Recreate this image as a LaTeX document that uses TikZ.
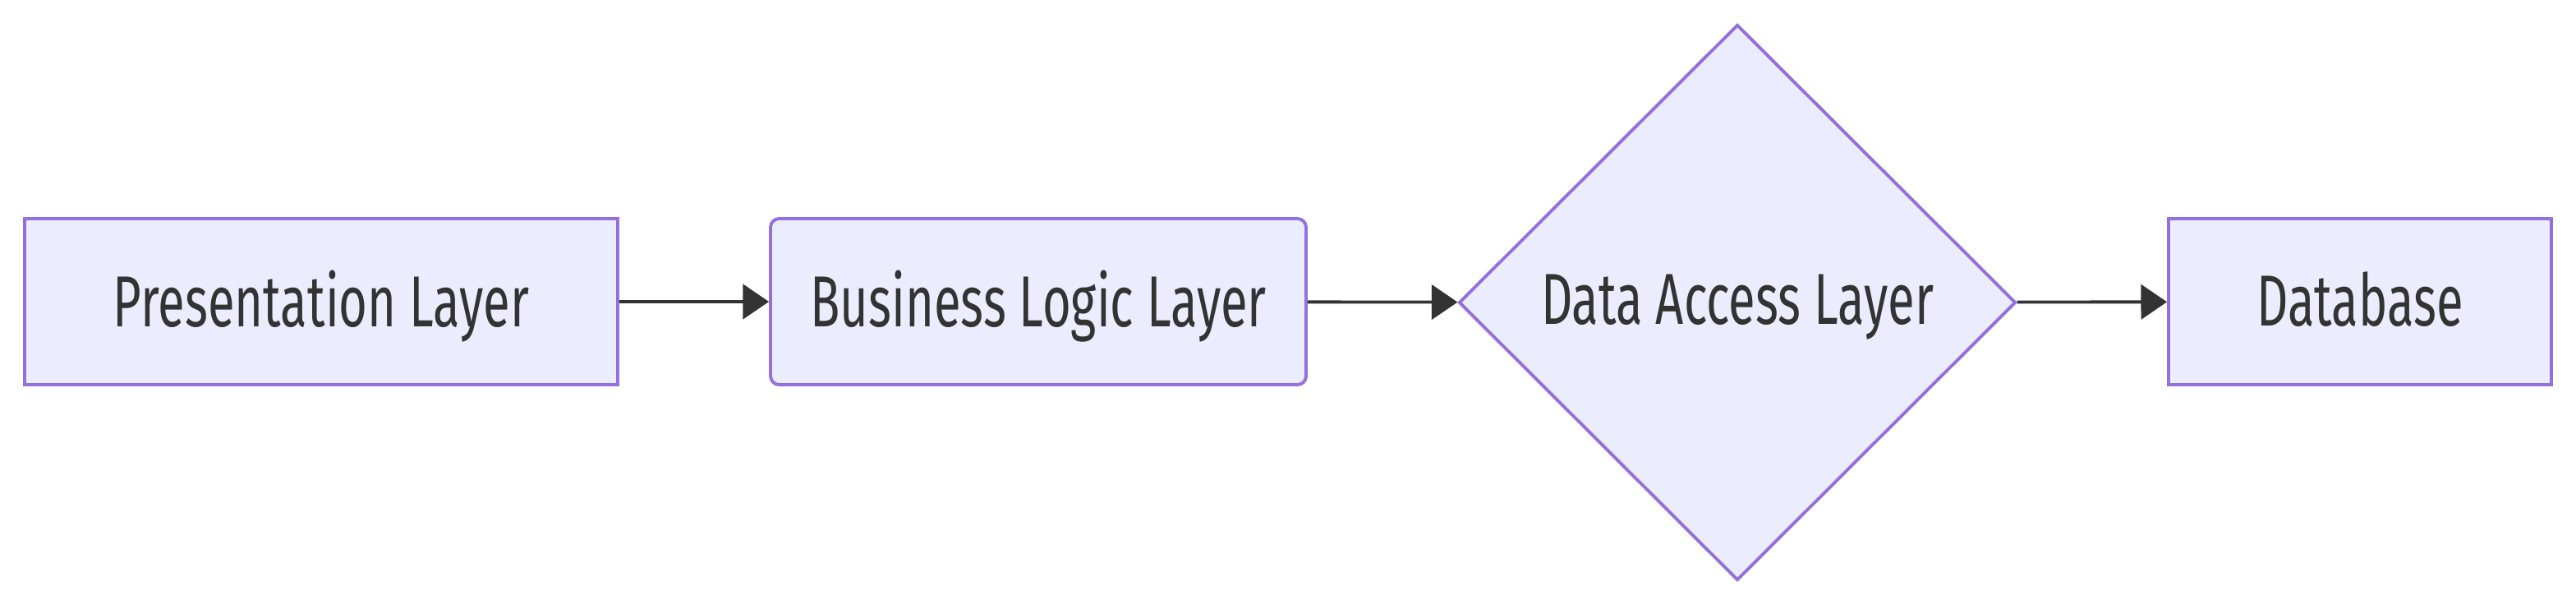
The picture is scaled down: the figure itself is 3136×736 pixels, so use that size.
\documentclass[tikz,border=0pt]{standalone}
\usepackage{fontspec}
\setmainfont[FakeStretch=0.68]{Fira Sans}
\usepackage{tikz}
\usetikzlibrary{arrows.meta,positioning,shapes.geometric}
\definecolor{layerfill}{HTML}{ECECFF}
\definecolor{layerline}{HTML}{9370DB}
\definecolor{inkgrey}{HTML}{333333}

\tikzset{
  layerbox/.style={draw=layerline,fill=layerfill,line width=1.1pt,text=inkgrey,
    minimum height=2.02cm,inner sep=0pt,text depth=2pt,font=\fontsize{25}{30}\selectfont},
  flowarrow/.style={draw=inkgrey,line width=1.1pt,-{Triangle[length=9pt,width=12pt]}}
}

\begin{document}
\begin{tikzpicture}[x=0.1mm,y=-0.1mm]
  \useasboundingbox (0,0) rectangle (3136,736);

  % Layers
  \node[layerbox,minimum width=7.22cm] (present) at (391,367) {Presentation Layer};
  \node[layerbox,minimum width=6.52cm,rounded corners=3pt] (business) at (1264,367) {Business Logic Layer};
  \node[layerbox,shape=diamond,aspect=1,minimum width=6.78cm,minimum height=6.76cm] (dataaccess) at (2115,368) {Data Access Layer};
  \node[layerbox,minimum width=4.66cm] (database) at (2873,367) {Database};

  % Flow
  \draw[flowarrow] (present) -- (business);
  \draw[flowarrow] (business) -- (dataaccess);
  \draw[flowarrow] (dataaccess) -- (database);
\end{tikzpicture}
\end{document}
